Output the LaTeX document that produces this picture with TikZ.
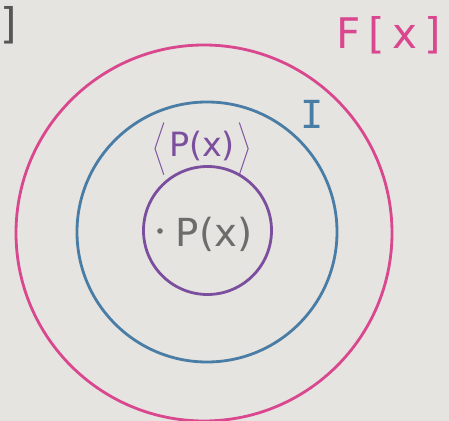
\documentclass[tikz,border=0pt]{standalone}
\usepackage{fontspec}
\setmainfont{DejaVu Sans}
\newfontfamily\monofam{DejaVu Sans Mono}
\definecolor{paper}{HTML}{E6E4E1}
\definecolor{pinkc}{HTML}{D9488E}
\definecolor{bluec}{HTML}{4A7DA6}
\definecolor{purplec}{HTML}{7B4F9E}
\definecolor{grayc}{HTML}{6E6C6A}
\tikzset{
  ring/.style={draw, line width=1.6pt, fill=none},
  lbl/.style={inner sep=0pt, anchor=center}
}
\newcommand{\bigangl}{$\left\langle\rule[-5pt]{0pt}{23pt}\right.$}
\newcommand{\bigangr}{$\left.\rule[-5pt]{0pt}{23pt}\right\rangle$}
\begin{document}
\begin{tikzpicture}[x=0.02cm, y=-0.02cm]
\fill[paper] (0,0) rectangle (449,421);
\useasboundingbox (0,0) rectangle (449,421);
\draw[ring, pinkc] (204,233) circle[radius=188];
\draw[ring, bluec] (207,232) circle[radius=130];
\draw[ring, purplec] (207.5,230.5) circle[radius=64];
\node[lbl, text=pinkc, font={\fontsize{24}{28}\selectfont\addfontfeature{LetterSpace=18}}] (fx) at (389,35) {F[x]};
\node[lbl, text=bluec, font={\monofam\fontsize{22}{26}\selectfont}] (ideal) at (312,114) {I};
\node[lbl, text=purplec, font={\fontsize{19}{22}\selectfont}] (gen) at (202,149) {\bigangl P(x)\bigangr};
\fill[grayc] (160,231) circle[radius=2.8];
\node[lbl, text=grayc, font={\fontsize{22}{26}\selectfont}] (px) at (214,234) {P(x)};
\node[lbl, text=grayc!80!black, font={\fontsize{24}{28}\selectfont}] (br) at (9,25) {]};
\end{tikzpicture}
\end{document}
